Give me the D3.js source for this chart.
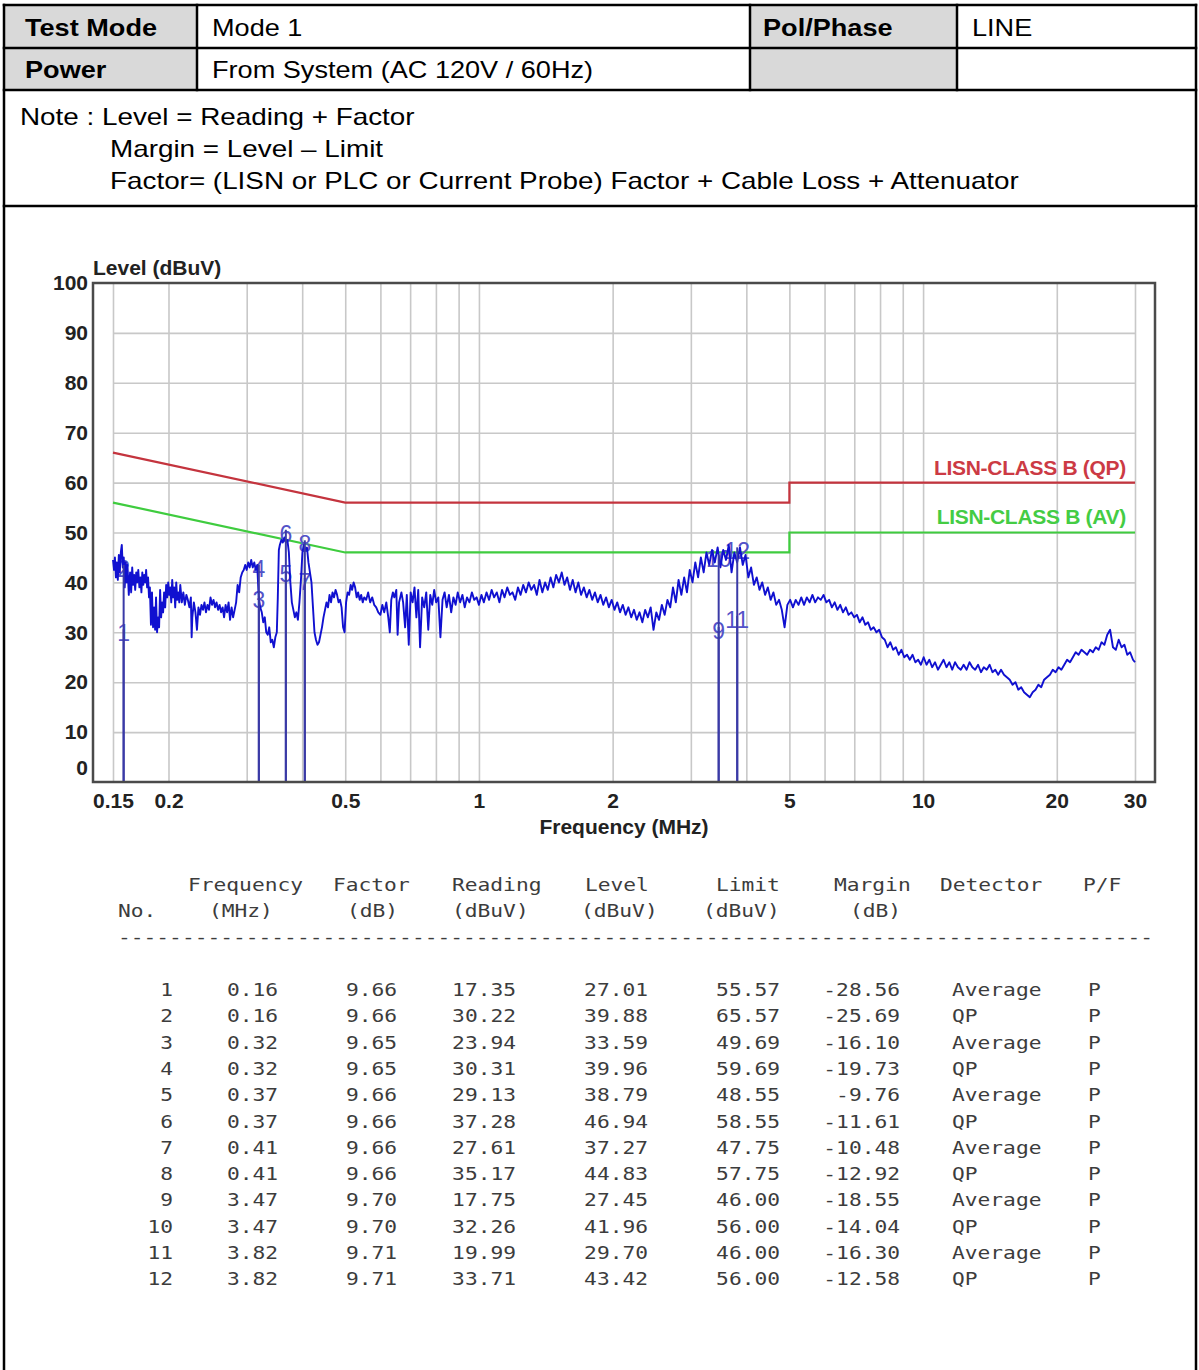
<!DOCTYPE html>
<html><head><meta charset="utf-8">
<script src="https://cdn.jsdelivr.net/npm/d3@7"></script>
<style>
html,body{margin:0;padding:0;background:#fff;}
svg{display:block;}
</style></head><body>
<svg id="c" width="1199" height="1370"></svg>
<script>
// ---------------- data ----------------
const infoLabels = ["Test Mode", "Power"];
const infoValues = ["Mode 1", "From System (AC 120V / 60Hz)"];
const polLabel = "Pol/Phase";
const polValue = "LINE";
const noteLines = ["Note : Level = Reading + Factor",
  "Margin = Level \u2013 Limit",
  "Factor= (LISN or PLC or Current Probe) Factor + Cable Loss + Attenuator"];

const yTicks = [0,10,20,30,40,50,60,70,80,90,100];
const xTickLabels = [0.15,0.2,0.5,1,2,5,10,20,30];
const xGrid = [0.15,0.2,0.3,0.4,0.5,0.6,0.7,0.8,0.9,1,2,3,4,5,6,7,8,9,10,20,30];
const yLabel = "Level (dBuV)";
const xLabel = "Frequency (MHz)";

const qpName = "LISN-CLASS B (QP)";
const avName = "LISN-CLASS B (AV)";
const qpLimit = [[0.15,66],[0.5,56],[5,56],[5,60],[30,60]];
const avLimit = [[0.15,56],[0.5,46],[5,46],[5,50],[30,50]];

const trace = [
[0.1500,44.5],[0.1508,42.5],[0.1515,45],[0.1523,41],[0.1530,44],[0.1538,40.5],[0.1546,45.5],[0.1554,42],[0.1562,46],[0.1570,47.5],
[0.1578,43],[0.1586,45],[0.1594,39],[0.1602,44],[0.1610,40],[0.1617,43.5],[0.1628,37.5],[0.1639,42],[0.1648,38],[0.1657,43],
[0.1666,39.5],[0.1674,41.5],[0.1683,38.5],[0.1692,42],[0.1701,40],[0.1710,42.5],[0.1720,39],[0.1729,41],[0.1738,38],[0.1746,42],
[0.1755,39.5],[0.1764,41.5],[0.1773,40],[0.1781,42.5],[0.1790,39],[0.1799,41],[0.1808,37],[0.1816,39],[0.1826,31.5],[0.1836,38],
[0.1846,31],[0.1856,35],[0.1866,30.5],[0.1875,37],[0.1885,30],[0.1895,33],[0.1905,31],[0.1915,38.5],[0.1925,33],[0.1935,36],
[0.1945,34],[0.1955,38],[0.1966,35],[0.1976,39.5],[0.1987,37],[0.1997,40],[0.2008,37.5],[0.2018,39],[0.2029,36],[0.2039,40.5],
[0.2050,37],[0.2060,39],[0.2071,35],[0.2082,40],[0.2093,36.5],[0.2104,38],[0.2115,36],[0.2126,39.5],[0.2143,36],[0.2160,38],
[0.2177,35.5],[0.2194,37.5],[0.2211,36.5],[0.2229,35],[0.2246,37],[0.2255,29],[0.2263,33],[0.2281,36],[0.2300,34],[0.2318,30.5],
[0.2336,35],[0.2355,33.5],[0.2373,35.5],[0.2392,34.5],[0.2410,36],[0.2429,34],[0.2448,35.5],[0.2467,34.5],[0.2487,37],[0.2506,35.5],
[0.2526,36.5],[0.2546,35],[0.2566,36],[0.2586,34.5],[0.2607,35.5],[0.2627,34],[0.2648,35],[0.2668,33],[0.2689,35.5],[0.2710,34],
[0.2731,36],[0.2752,32.5],[0.2774,35],[0.2796,33],[0.2818,34.5],[0.2840,36],[0.2862,39.5],[0.2885,38],[0.2908,41],[0.2931,42],
[0.2954,42.5],[0.2977,43.5],[0.3000,42.5],[0.3024,44],[0.3047,43],[0.3071,44.5],[0.3095,43],[0.3120,44],[0.3144,42.5],[0.3168,43.5],
[0.3193,37],[0.3218,35],[0.3244,34],[0.3269,32],[0.3295,33],[0.3320,30],[0.3346,29.5],[0.3372,31],[0.3399,28],[0.3426,28.5],
[0.3453,27],[0.3480,29],[0.3507,30],[0.3525,37],[0.3544,46.5],[0.3562,47.5],[0.3590,48.5],[0.3618,48],[0.3647,49],[0.3675,48],
[0.3704,48.5],[0.3733,46],[0.3762,40],[0.3791,36],[0.3821,34.5],[0.3851,33],[0.3881,34],[0.3912,32.5],[0.3943,36],[0.3974,40.5],
[0.4005,46],[0.4036,47.5],[0.4068,46.5],[0.4100,47],[0.4132,44],[0.4164,42],[0.4197,40],[0.4230,35],[0.4263,30],[0.4296,28.5],
[0.4330,27.5],[0.4364,28],[0.4398,29.5],[0.4432,31],[0.4467,33],[0.4502,34.5],[0.4537,36],[0.4573,35],[0.4609,37.5],[0.4645,36],
[0.4681,38],[0.4718,37],[0.4755,38.5],[0.4793,37.5],[0.4830,36],[0.4868,36.5],[0.4906,35],[0.4945,31],[0.4983,30],[0.5022,36],
[0.5062,38],[0.5102,37.5],[0.5142,39.5],[0.5182,38.5],[0.5222,40],[0.5263,39],[0.5305,37],[0.5346,38],[0.5389,36.5],[0.5431,37.5],
[0.5474,36],[0.5517,37],[0.5574,36.5],[0.5630,38],[0.5690,36],[0.5750,37],[0.5810,35.5],[0.5871,35],[0.5935,34],[0.6000,33.5],
[0.6060,35.5],[0.6120,34],[0.6186,36],[0.6250,33],[0.6300,30],[0.6348,36.5],[0.6400,38],[0.6450,37],[0.6515,38.5],[0.6560,29.5],
[0.6610,36],[0.6690,38],[0.6750,36],[0.6820,31],[0.6880,37.5],[0.6950,27.5],[0.7020,38],[0.7090,36],[0.7160,39],[0.7230,33],
[0.7300,38.5],[0.7370,27],[0.7450,37],[0.7530,35],[0.7610,38],[0.7690,30.5],[0.7770,37.5],[0.7850,35.5],[0.7930,38.5],[0.8010,36],
[0.8100,37],[0.8190,29],[0.8280,36.5],[0.8370,38],[0.8460,35],[0.8560,37.5],[0.8660,34],[0.8760,37],[0.8860,35.5],[0.8960,38],
[0.9070,36],[0.9180,37.5],[0.9290,35],[0.9400,37],[0.9520,36],[0.9640,38],[0.9760,36.5],[0.9880,37],[1.000,35.5],[1.013,37.5],
[1.026,36],[1.040,38],[1.054,36.5],[1.068,38.5],[1.082,37],[1.097,38],[1.112,36],[1.127,38.5],[1.142,37],[1.158,39],
[1.174,37.5],[1.190,38],[1.207,36.5],[1.224,39],[1.241,37.5],[1.258,39.5],[1.276,38],[1.294,40],[1.312,38.5],[1.331,39.5],
[1.350,37.5],[1.369,40.5],[1.389,38],[1.409,40],[1.429,38.5],[1.450,41],[1.471,39],[1.492,41.5],[1.514,40],[1.536,42],
[1.558,39.5],[1.580,41],[1.603,38.5],[1.626,40.5],[1.650,38],[1.674,40],[1.698,37.5],[1.723,39],[1.748,37],[1.773,38.5],
[1.799,36.5],[1.825,38],[1.851,36],[1.878,37.5],[1.905,35.5],[1.933,37],[1.961,35],[1.990,36.5],[2.019,34.5],[2.048,36],
[2.078,34],[2.108,35.5],[2.139,33.5],[2.170,35],[2.202,33],[2.234,34.5],[2.266,32.5],[2.299,34],[2.333,32],[2.367,34.5],
[2.401,33],[2.436,35],[2.472,30.5],[2.508,34],[2.544,32.5],[2.581,35.5],[2.619,33.5],[2.657,36.5],[2.696,35],[2.735,39],
[2.775,36],[2.815,40.5],[2.856,37.5],[2.898,41],[2.940,38],[2.983,42.5],[3.026,40],[3.070,44],[3.115,41],[3.160,45],
[3.206,42],[3.253,46],[3.300,43.5],[3.348,46.5],[3.397,44],[3.447,47],[3.497,43],[3.548,46.5],[3.600,44.5],[3.652,47.5],
[3.705,42],[3.759,46],[3.814,44],[3.870,47],[3.926,43.5],[3.983,45.5],[4.041,41],[4.100,43],[4.160,39.5],[4.221,41],
[4.282,38.5],[4.344,40],[4.408,37.5],[4.472,39],[4.537,36.5],[4.603,38],[4.670,35.5],[4.738,36.5],[4.807,34.5],[4.877,31],
[4.948,35.5],[5.020,36.5],[5.093,35],[5.167,36.5],[5.242,35.5],[5.318,37],[5.395,35.5],[5.474,37],[5.553,36],[5.634,37.5],
[5.716,36],[5.799,37],[5.883,36.5],[5.969,37.5],[6.056,36],[6.144,36.5],[6.233,35],[6.323,36],[6.415,34.5],[6.508,35.5],
[6.603,34],[6.699,35],[6.796,33.5],[6.895,34],[6.995,33],[7.097,33.5],[7.200,32],[7.305,33],[7.411,31.5],[7.519,32],
[7.628,30.5],[7.739,31],[7.851,30],[7.965,30.5],[8.081,29],[8.198,28.5],[8.317,27],[8.438,28],[8.561,26.5],[8.685,27],
[8.811,25.5],[8.939,26.5],[9.069,25],[9.201,25.5],[9.334,24.5],[9.470,25.5],[9.607,24],[9.747,24.5],[9.888,23.5],[10.03,25],
[10.18,23.5],[10.33,24.5],[10.48,23],[10.64,24],[10.80,22.5],[10.96,23.5],[11.12,24.5],[11.29,23],[11.46,24],[11.63,22.5],
[11.80,24],[11.98,23],[12.16,22.5],[12.34,23.5],[12.53,22.5],[12.72,24],[12.91,23],[13.10,22.5],[13.30,23.5],[13.50,22],
[13.70,23],[13.91,22.5],[14.12,23.5],[14.33,22],[14.54,22.5],[14.76,21.5],[14.98,22.5],[15.21,21.5],[15.44,21],[15.67,20.5],
[15.90,19.5],[16.14,20],[16.38,18.5],[16.63,19],[16.88,18],[17.13,17.5],[17.39,17],[17.65,18],[17.91,18.5],[18.18,19.5],
[18.45,19],[18.73,20.5],[19.01,21],[19.30,21.5],[19.59,22.5],[19.88,22],[20.18,23],[20.48,22.5],[20.79,23.5],[21.10,24.5],
[21.42,24],[21.74,25],[22.06,26],[22.39,25.5],[22.73,26.5],[23.07,26],[23.41,25.5],[23.76,26.5],[24.12,26],[24.48,27],
[24.85,26.5],[25.22,28],[25.60,27.5],[25.98,29.5],[26.37,30.5],[26.76,27],[27.16,26.5],[27.57,28.5],[27.98,27],[28.40,27.5],
[28.82,25.5],[29.25,26],[29.69,24.5],[30.00,24]
];

// marker table
const markerNo = [1,2,3,4,5,6,7,8,9,10,11,12];
const markerFreq = [0.16,0.16,0.32,0.32,0.37,0.37,0.41,0.41,3.47,3.47,3.82,3.82];
const markerFreqExact = [0.1585,0.1585,0.3195,0.3195,0.3675,0.3675,0.4055,0.4055,3.4655,3.4655,3.8155,3.8155];
const markerFactor = [9.66,9.66,9.65,9.65,9.66,9.66,9.66,9.66,9.70,9.70,9.71,9.71];
const markerReading = [17.35,30.22,23.94,30.31,29.13,37.28,27.61,35.17,17.75,32.26,19.99,33.71];
const markerLevel = [27.01,39.88,33.59,39.96,38.79,46.94,37.27,44.83,27.45,41.96,29.70,43.42];
const markerLimit = [55.57,65.57,49.69,59.69,48.55,58.55,47.75,57.75,46.00,56.00,46.00,56.00];
const markerMargin = [-28.56,-25.69,-16.10,-19.73,-9.76,-11.61,-10.48,-12.92,-18.55,-14.04,-16.30,-12.58];
const markerDetector = ["Average","QP","Average","QP","Average","QP","Average","QP","Average","QP","Average","QP"];
const markerPF = ["P","P","P","P","P","P","P","P","P","P","P","P"];
const tableHead1 = ["Frequency","Factor","Reading","Level","Limit","Margin","Detector","P/F"];
const tableHead2 = ["No.","(MHz)","(dB)","(dBuV)","(dBuV)","(dBuV)","(dB)"];

// ---------------- layout / style ----------------
const SANS = "'Liberation Sans', Arial, sans-serif";
const MONO = "'DejaVu Sans Mono', 'Liberation Mono', monospace";
const svg = d3.select('#c');

function stext(g, s, x, y, o) {
  o = o || {};
  const t = g.append('text')
    .attr('transform', `translate(${x},${y}) scale(${o.sx||1},1)`)
    .attr('font-family', o.ff || SANS)
    .attr('font-size', o.fs || 24)
    .attr('font-weight', o.fw || 'normal')
    .attr('fill', o.fill || '#000')
    .attr('text-anchor', o.anchor || 'start')
    .text(s);
  if (o.ls) t.attr('letter-spacing', o.ls);
  return t;
}

// ---- header table ----
const T = {l:4, r:1196, top:5, r1:48, r2:90, note:206, c1:197, c2:750, c3:957};
const hg = svg.append('g');
hg.append('rect').attr('x',T.l).attr('y',T.top).attr('width',T.c1-T.l).attr('height',T.r2-T.top).attr('fill','#d9d9d9');
hg.append('rect').attr('x',T.c2).attr('y',T.top).attr('width',T.c3-T.c2).attr('height',T.r2-T.top).attr('fill','#d9d9d9');
const lines = [
  [T.l,T.top,T.r,T.top],[T.l,T.r1,T.r,T.r1],[T.l,T.r2,T.r,T.r2],[T.l,T.note,T.r,T.note],
  [T.l,T.top,T.l,1370],[T.r,T.top,T.r,1370],
  [T.c1,T.top,T.c1,T.r2],[T.c2,T.top,T.c2,T.r2],[T.c3,T.top,T.c3,T.r2]
];
hg.selectAll('line.b').data(lines).join('line').attr('class','b')
  .attr('x1',d=>d[0]).attr('y1',d=>d[1]).attr('x2',d=>d[2]).attr('y2',d=>d[3])
  .attr('stroke','#000').attr('stroke-width',2.5).attr('stroke-linecap','square');

const SX = 1.13;
stext(hg, infoLabels[0], 25, 36, {fw:'bold', sx:SX});
stext(hg, infoLabels[1], 25, 78, {fw:'bold', sx:SX});
stext(hg, infoValues[0], 212, 36, {sx:SX});
stext(hg, infoValues[1], 212, 78, {sx:SX});
stext(hg, polLabel, 763, 36, {fw:'bold', sx:SX});
stext(hg, polValue, 972, 36, {sx:SX});
stext(hg, noteLines[0], 20, 125, {sx:SX+0.03});
stext(hg, noteLines[1], 110, 157, {sx:SX+0.03});
stext(hg, noteLines[2], 110, 189, {sx:SX+0.03});

// ---- chart ----
const P = {l:93, r:1155, t:283, b:782, x0:113, x1:1135};
const x = d3.scaleLog().domain([0.15,30]).range([P.x0,P.x1]);
const y = d3.scaleLinear().domain([0,100]).range([P.b,P.t]);
const cg = svg.append('g');

// grid
const gxg = cg.append('g').attr('transform',`translate(0,${P.b})`)
  .call(d3.axisBottom(x).tickValues(xGrid).tickSize(-(P.b-P.t)).tickFormat(''));
gxg.select('.domain').remove();
gxg.selectAll('line').attr('stroke','#c8c8c8').attr('stroke-width',1.6);
const gyg = cg.append('g').attr('transform',`translate(${P.x0},0)`)
  .call(d3.axisLeft(y).tickValues(yTicks.filter(v=>v>0&&v<100)).tickSize(-(P.x1-P.x0)).tickFormat(''));
gyg.select('.domain').remove();
gyg.selectAll('line').attr('stroke','#c8c8c8').attr('stroke-width',1.6);

// limit lines
const ln = d3.line().x(d=>x(d[0])).y(d=>y(d[1]));
cg.append('path').datum(qpLimit).attr('d',ln).attr('fill','none').attr('stroke','#c4343e').attr('stroke-width',2.2);
cg.append('path').datum(avLimit).attr('d',ln).attr('fill','none').attr('stroke','#3fcc3f').attr('stroke-width',2.2);

// marker labels (under trace, like the original)
const mIdx = markerNo.map((n,i)=>i);
cg.selectAll('text.mk').data(mIdx).join('text').attr('class','mk')
  .attr('x',i=>x(markerFreqExact[i])).attr('y',i=>y(markerLevel[i])-6)
  .attr('text-anchor','middle').attr('font-family',SANS).attr('font-size',23)
  .attr('fill','#5252c8').text(i=>markerNo[i]);

// trace
cg.append('path').datum(trace).attr('d',ln).attr('fill','none').attr('stroke','#1010d0').attr('stroke-width',1.9).attr('stroke-linejoin','round');

// marker lines
cg.selectAll('line.mk').data(mIdx).join('line').attr('class','mk')
  .attr('x1',i=>x(markerFreqExact[i])).attr('x2',i=>x(markerFreqExact[i]))
  .attr('y1',i=>y(markerLevel[i])-18).attr('y2',y(0))
  .attr('stroke','#3a3aa6').attr('stroke-width',2);

// limit labels
stext(cg, qpName, 1126, 475, {fw:'bold', fs:21, fill:'#cc3a44', anchor:'end', ls:-0.3});
stext(cg, avName, 1126, 524, {fw:'bold', fs:21, fill:'#44cc44', anchor:'end', ls:-0.3});

// frame
cg.append('rect').attr('x',P.l).attr('y',P.t).attr('width',P.r-P.l).attr('height',P.b-P.t)
  .attr('fill','none').attr('stroke','#4a4a4a').attr('stroke-width',2.5);

// axes labels
const ax = cg.append('g').attr('transform',`translate(0,${P.b})`)
  .call(d3.axisBottom(x).tickValues(xTickLabels).tickFormat(d=>String(d)).tickSize(0).tickPadding(11));
ax.select('.domain').remove();
ax.selectAll('text').attr('font-family',SANS).attr('font-size',21).attr('font-weight','bold').attr('fill','#222');
const ay = cg.append('g').attr('transform',`translate(${P.l},0)`)
  .call(d3.axisLeft(y).tickValues(yTicks).tickSize(0).tickPadding(5));
ay.select('.domain').remove();
ay.selectAll('text').attr('font-family',SANS).attr('font-size',21).attr('font-weight','bold').attr('fill','#222');
ay.selectAll('.tick').filter(d=>d===0).select('text').attr('y',-14);

stext(cg, yLabel, 93, 275, {fw:'bold', fs:21, fill:'#222'});
stext(cg, xLabel, (P.x0+P.x1)/2, 834, {fw:'bold', fs:21, fill:'#222', anchor:'middle'});

// ---- measurement table ----
const tg = svg.append('g');
const MS = {ff:MONO, fs:18, sx:1.18, fill:'#3c3c3c'};
const h1x = [188,333,452,585,716,834,940,1083];
const h2x = [118,209,347,452,581,703,850];
tableHead1.forEach((s,i)=>stext(tg, s, h1x[i], 891, MS));
tableHead2.forEach((s,i)=>stext(tg, s, h2x[i], 917, MS));
stext(tg, d3.range(81).map(()=>'-').join(''), 118, 943, MS);

const rowY = i => 996 + i*26.3;
const f2 = v => v.toFixed(2);
const colsR = [
  {x:173, v:i=>String(markerNo[i])},
  {x:278, v:i=>f2(markerFreq[i])},
  {x:397, v:i=>f2(markerFactor[i])},
  {x:516, v:i=>f2(markerReading[i])},
  {x:648, v:i=>f2(markerLevel[i])},
  {x:780, v:i=>f2(markerLimit[i])},
  {x:900, v:i=>f2(markerMargin[i])}
];
markerNo.forEach((n,i)=>{
  colsR.forEach(c=>stext(tg, c.v(i), c.x, rowY(i), Object.assign({anchor:'end'},MS)));
  stext(tg, markerDetector[i], 952, rowY(i), MS);
  stext(tg, markerPF[i], 1088, rowY(i), MS);
});
</script></body></html>
